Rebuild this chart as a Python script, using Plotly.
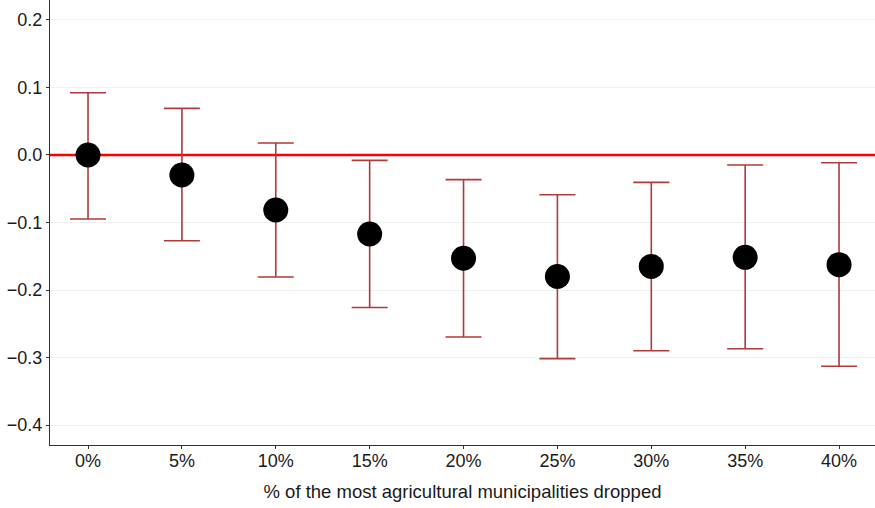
import plotly.graph_objects as go

categories = ["0%", "5%", "10%", "15%", "20%", "25%", "30%", "35%", "40%"]
estimates = [0.0, -0.0296, -0.0815, -0.117, -0.153, -0.180, -0.165, -0.1516, -0.1625]
upper = [0.0923, 0.069, 0.0178, -0.0079, -0.0365, -0.0588, -0.0405, -0.0148, -0.0114]
lower = [-0.0948, -0.127, -0.1807, -0.226, -0.2696, -0.3017, -0.290, -0.287, -0.313]
y_ticks = [0.2, 0.1, 0.0, -0.1, -0.2, -0.3, -0.4]
y_tick_text = ["0.2", "0.1", "0.0", "\u22120.1", "\u22120.2", "\u22120.3", "\u22120.4"]
x_range = [-0.405, 8.383]

xs = list(range(len(categories)))
err_plus = [u - e for u, e in zip(upper, estimates)]
err_minus = [e - l for e, l in zip(estimates, lower)]

fig = go.Figure()
fig.add_trace(go.Scatter(
    x=x_range, y=[0, 0], mode="lines",
    line=dict(color="#FF0000", width=2.5),
    showlegend=False, hoverinfo="skip",
))
fig.add_trace(go.Scatter(
    x=xs, y=estimates, mode="markers",
    marker=dict(color="black", size=25),
    error_y=dict(type="data", symmetric=False, array=err_plus, arrayminus=err_minus,
                 color="#B03A3A", thickness=1.6, width=18),
    showlegend=False,
))

fig.update_layout(
    width=875, height=508,
    margin=dict(l=50, r=0, t=0, b=63, autoexpand=False),
    paper_bgcolor="white", plot_bgcolor="white",
    font=dict(family="Liberation Sans, Arial, sans-serif", size=18, color="#1a1a1a"),
    xaxis=dict(
        range=x_range, tickmode="array", tickvals=xs, ticktext=categories,
        showgrid=False, zeroline=False, showline=True, linecolor="#333333", linewidth=1,
        ticks="outside", ticklen=3, tickcolor="#333333", automargin=False,
        tickfont=dict(size=18), ticklabelstandoff=-4,
        title=dict(text="% of the most agricultural municipalities dropped", standoff=15,
                   font=dict(size=18.5)),
    ),
    yaxis=dict(
        range=[-0.4296, 0.2296], tickmode="array", tickvals=y_ticks, ticktext=y_tick_text,
        showgrid=True, gridcolor="#EDF1F1", gridwidth=1, zeroline=False,
        showline=True, linecolor="#333333", linewidth=1, automargin=False,
        ticks="outside", ticklen=3, tickcolor="#333333", tickfont=dict(size=18),
    ),
)

fig.write_html("out.html", config={"displayModeBar": False},
               post_script="document.body.style.margin='0';document.body.style.padding='0';")
